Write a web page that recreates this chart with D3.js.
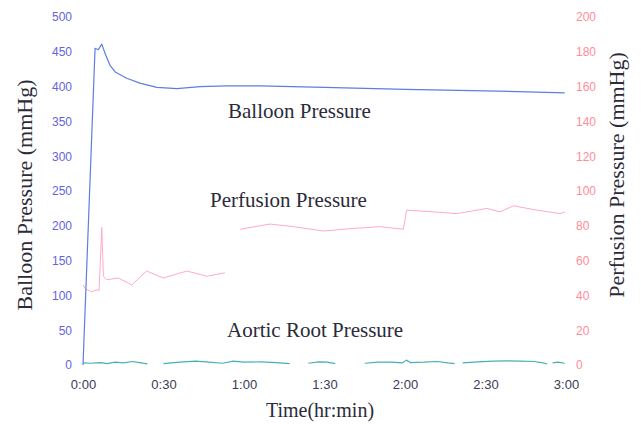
<!DOCTYPE html>
<html>
<head>
<meta charset="utf-8">
<script src="https://cdn.jsdelivr.net/npm/d3@7"></script>
<style>
  body { margin: 0; background: #fff; }
  .tick text { font-family: "Liberation Sans", Arial, sans-serif; }
  .label { font-family: "Liberation Serif", "Times New Roman", serif; fill: #2b2b3a; }
</style>
</head>
<body>
<div id="chart"></div>
<script>
// time in minutes, pressures in mmHg
var timeTicks = [0, 30, 60, 90, 120, 150, 180];
var leftTicks = [0, 50, 100, 150, 200, 250, 300, 350, 400, 450, 500];
var rightTicks = [0, 20, 40, 60, 80, 100, 120, 140, 160, 180, 200];

var balloonT = [0, 4.5, 5.7, 7, 8.2, 10, 12, 16.3, 21.2, 27.5, 35, 43.6, 53.6, 66, 90, 120, 150, 179.5];
var balloonV = [0, 455, 453, 461, 448, 431, 421, 412, 405, 399, 397, 400, 401, 401, 399, 396, 394, 391];

// null = gap in the recording
var perfusionT = [0, 0.75, 3.2, 4.5, 6.0, 7.0, 7.6, 8.8, 13.2, 18.2, 23.7, 29.9, 38.7, 46.1, 52.9, 55.5,
  58.5, 69.7, 78.4, 89.6, 100.8, 110.7, 119.4, 120.6, 130.6, 139.3, 150.5, 155.4, 160.4, 169.1, 177.8, 179.6];
var perfusionV = [46, 44, 42, 43, 43, 79, 51, 49, 50, 46, 54, 50, 54, 51, 53, null,
  78, 81, 79.5, 77, 78.5, 79.5, 78, 89, 88, 87, 90, 88, 91.5, 89, 87, 88];

var aorticT = [0, 3, 5, 6.7, 9, 12, 15, 18.5, 21, 24, 26,
  30, 36, 42, 47, 52, 56, 60, 66, 72, 77, 80,
  84, 88, 91, 94, 99,
  105, 110, 115, 119, 120.5, 122, 127, 132, 136, 138.5, 140,
  141.5, 147, 153, 158, 163, 168, 171, 173, 174,
  175, 177, 179.5];
var aorticV = [3, 2.5, 3, 3.5, 2, 4, 3, 5, 3.5, 1.5, null,
  2, 4, 5.5, 4, 2.5, 5.5, 4, 4.5, 3.5, 2, null,
  2.5, 4.5, 4, 2, null,
  2.5, 4, 4, 3, 7, 3.5, 4, 5, 3, 2, null,
  3, 4.5, 5.5, 6, 5.5, 5, 3.5, 1.5, null,
  3, 4, 2.5];

var width = 641, height = 425;
var x0 = 83, x1 = 566, yBottom = 365, yTop = 17;

var svg = d3.select('#chart').append('svg')
  .attr('width', width)
  .attr('height', height);

var x = d3.scaleLinear().domain([0, 180]).range([x0, x1]);
var yL = d3.scaleLinear().domain([0, 500]).range([yBottom, yTop]);
var yR = d3.scaleLinear().domain([0, 200]).range([yBottom, yTop]);

function fmtTime(m) {
  return Math.floor(m / 60) + ':' + d3.format('02')(m % 60);
}

var gx = svg.append('g')
  .attr('transform', 'translate(0,' + yBottom + ')')
  .call(d3.axisBottom(x).tickValues(timeTicks).tickFormat(fmtTime).tickSize(0).tickPadding(15));
gx.select('.domain').remove();
gx.selectAll('text').attr('fill', '#3a3a55').style('font-size', '13px');

var gl = svg.append('g')
  .attr('transform', 'translate(' + x0 + ',0)')
  .call(d3.axisLeft(yL).tickValues(leftTicks).tickSize(0).tickPadding(11));
gl.select('.domain').remove();
gl.selectAll('text').attr('fill', '#6464da').style('font-size', '12px');

var gr = svg.append('g')
  .attr('transform', 'translate(' + x1 + ',0)')
  .call(d3.axisRight(yR).tickValues(rightTicks).tickSize(0).tickPadding(10));
gr.select('.domain').remove();
gr.selectAll('text').attr('fill', '#ff8c9a').style('font-size', '12px');

function pairs(ts, vs) {
  return ts.map(function (t, i) { return {t: t, v: vs[i]}; });
}

function drawLine(data, yScale, color, w) {
  var line = d3.line()
    .defined(function (d) { return d.v !== null; })
    .x(function (d) { return x(d.t); })
    .y(function (d) { return yScale(d.v); });
  svg.append('path')
    .datum(data)
    .attr('d', line)
    .attr('fill', 'none')
    .attr('stroke', color)
    .attr('stroke-width', w)
    .attr('stroke-linejoin', 'round');
}

drawLine(pairs(aorticT, aorticV), yL, '#48b0b0', 1.2);
drawLine(pairs(perfusionT, perfusionV), yR, '#ffaac4', 1);
drawLine(pairs(balloonT, balloonV), yL, '#5f7ddc', 1.2);

// series labels inside the plot
svg.append('text').attr('class', 'label').attr('x', 228).attr('y', 118)
  .style('font-size', '21px').text('Balloon Pressure');
svg.append('text').attr('class', 'label').attr('x', 210).attr('y', 207)
  .style('font-size', '21px').text('Perfusion Pressure');
svg.append('text').attr('class', 'label').attr('x', 227).attr('y', 337)
  .style('font-size', '21px').text('Aortic Root Pressure');

// axis titles
svg.append('text').attr('class', 'label')
  .attr('transform', 'translate(32,195) rotate(-90)')
  .attr('text-anchor', 'middle')
  .style('font-size', '22px')
  .text('Balloon Pressure (mmHg)');

svg.append('text').attr('class', 'label')
  .attr('transform', 'translate(624,175) rotate(-90)')
  .attr('text-anchor', 'middle')
  .style('font-size', '22px')
  .text('Perfusion Pressure (mmHg)');

svg.append('text').attr('class', 'label')
  .attr('x', 320).attr('y', 417)
  .attr('text-anchor', 'middle')
  .style('font-size', '20px')
  .text('Time(hr:min)');
</script>
</body>
</html>
